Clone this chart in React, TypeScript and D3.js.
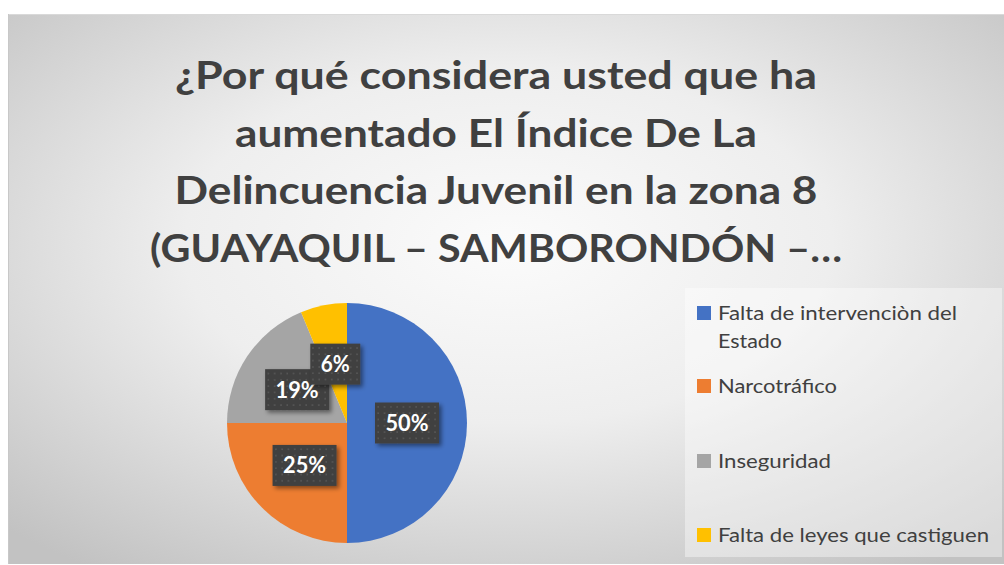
import React from "react";
import * as d3 from "d3";

const titleLines = [
  "¿Por qué considera usted que ha",
  "aumentado El Índice De La",
  "Delincuencia Juvenil en la zona 8",
  "(GUAYAQUIL – SAMBORONDÓN –…",
];
const titleWidths = [642, 522, 643, 692];

const categories = [
  "Falta de intervenciòn del Estado",
  "Narcotráfico",
  "Inseguridad",
  "Falta de leyes que castiguen",
];
const values = [8, 4, 3, 1];
const percentLabels = ["50%", "25%", "19%", "6%"];
const colors = ["#4472C4", "#ED7D31", "#A5A5A5", "#FFC000"];

const legendLines = [
  ["Falta de intervenciòn del", "Estado"],
  ["Narcotráfico"],
  ["Inseguridad"],
  ["Falta de leyes que castiguen"],
];
const legendWidths = [[239, 64], [119], [113], [271]];

export default function App() {
  const W = 1004;
  const H = 565;
  const cx = 347;
  const cy = 423;
  const R = 120;

  const pie = d3
    .pie<number>()
    .sort(null)
    .value((d) => d)
    .startAngle(0)
    .endAngle(2 * Math.PI);
  const arcs = pie(values);
  const arc = d3.arc<d3.PieArcDatum<number>>().innerRadius(0).outerRadius(R);

  const titleX = 496;
  const titleY = d3.scaleLinear().domain([0, 1]).range([89, 146.7]);

  const legendBaselines = [320, 393, 468, 542];
  const legendLineGap = 28;

  return (
    <svg
      width={W}
      height={H}
      style={{ position: "absolute", left: 0, top: 0 }}
      fontFamily="Lato, 'Open Sans', sans-serif"
    >
      <defs>
        <radialGradient id="bg" cx="0.5" cy="0.42" r="0.72">
          <stop offset="0" stopColor="#fbfbfb" />
          <stop offset="0.45" stopColor="#eeeeee" />
          <stop offset="1" stopColor="#c2c2c2" />
        </radialGradient>
        <pattern id="dots" width="6.3" height="6.3" patternUnits="userSpaceOnUse">
          <rect width="6.3" height="6.3" fill="#404040" />
          <rect x="2" y="2" width="1.6" height="1.6" fill="#575757" />
        </pattern>
        <filter id="shadow" x="-20%" y="-20%" width="150%" height="150%">
          <feDropShadow dx="2.5" dy="2.5" stdDeviation="2" floodColor="#000" floodOpacity="0.45" />
        </filter>
      </defs>
      <rect x={0} y={0} width={W} height={H} fill="#ffffff" />
      <rect x={8} y={14} width={1000} height={550} fill="url(#bg)" />
      <line x1={8} x2={1004} y1={14.5} y2={14.5} stroke="#d9d9d9" strokeWidth={1} />
      <line x1={8.5} x2={8.5} y1={14} y2={564} stroke="#c8c8c8" strokeWidth={1} />

      {titleLines.map((t, i) => (
        <text
          key={i}
          x={titleX}
          y={titleY(i)}
          textAnchor="middle"
          fontSize={39}
          fontWeight="bold"
          fill="#404040"
          textLength={titleWidths[i]}
          lengthAdjust="spacingAndGlyphs"
        >
          {t}
        </text>
      ))}

      <g transform={`translate(${cx},${cy})`}>
        {arcs.map((a, i) => (
          <path key={i} d={arc(a) || ""} fill={colors[i]} />
        ))}
        {arcs.map((a, i) => {
          const [lx, ly] = arc.centroid(a);
          const label = percentLabels[i];
          const tw = label.length === 3 ? 43 : 29;
          const bw = tw + 21;
          const bh = 41;
          return (
            <g key={"l" + i} transform={`translate(${lx},${ly})`}>
              <rect
                x={-bw / 2}
                y={-bh / 2}
                width={bw}
                height={bh}
                fill="url(#dots)"
                filter="url(#shadow)"
              />
              <text
                x={0}
                y={8}
                textAnchor="middle"
                fontSize={22}
                fontWeight="bold"
                fill="#ffffff"
                textLength={tw}
                lengthAdjust="spacingAndGlyphs"
              >
                {label}
              </text>
            </g>
          );
        })}
      </g>

      <rect x={685} y={288} width={317} height={269} fill="#ffffff" fillOpacity={0.4} />
      {categories.map((c, i) => (
        <g key={c}>
          <rect x={697} y={legendBaselines[i] - 14} width={14} height={14} fill={colors[i]} />
          {legendLines[i].map((ln, j) => (
            <text
              key={j}
              x={718}
              y={legendBaselines[i] + j * legendLineGap}
              fontSize={19.5}
              fill="#404040"
              textLength={legendWidths[i][j]}
              lengthAdjust="spacingAndGlyphs"
            >
              {ln}
            </text>
          ))}
        </g>
      ))}
    </svg>
  );
}
